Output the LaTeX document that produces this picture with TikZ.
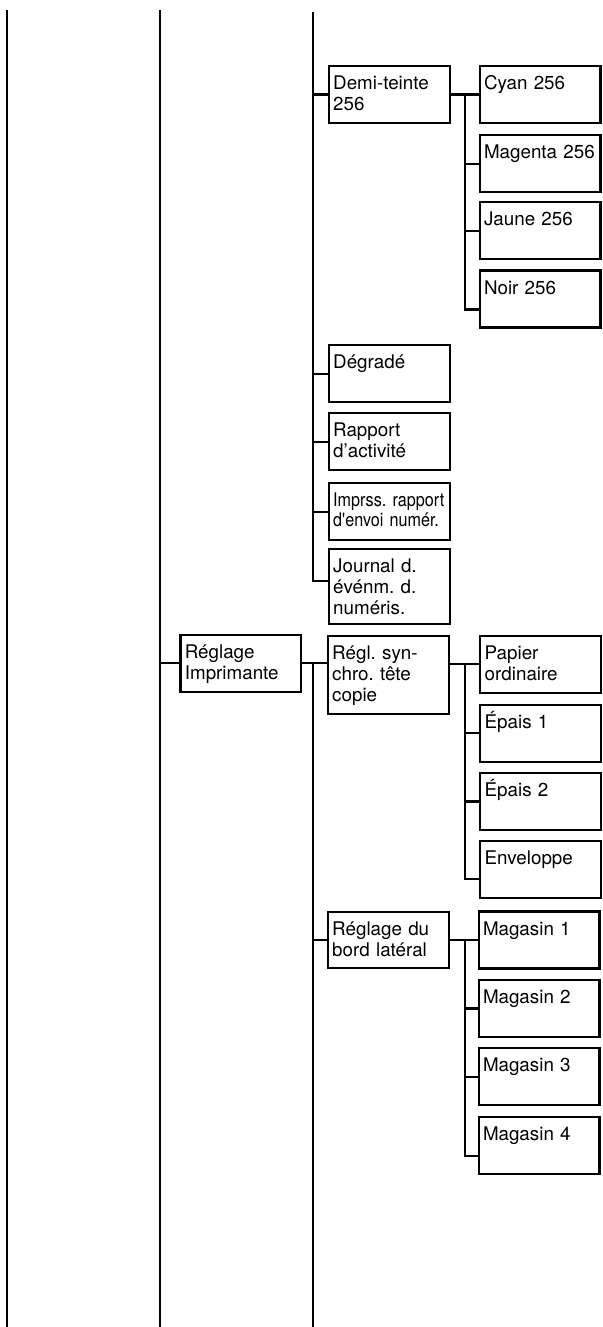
\documentclass[tikz,border=0pt]{standalone}
\usepackage{fontspec}
\setmainfont{TeX Gyre Heros}
\newfontfamily\narrowfont[FakeStretch=0.86]{TeX Gyre Heros}
\usetikzlibrary{positioning}
\frenchspacing
\hyphenpenalty=10000
\newcommand\menufont{\fontsize{9.4pt}{10.5pt}\selectfont}
\newcommand\narrowmenufont{\narrowfont\fontsize{9.4pt}{10pt}\selectfont}

\begin{document}
\begin{tikzpicture}[
  x=0.5pt, y=-0.5pt,
  menubox/.style = {draw, line width=1.1pt, anchor=north west, align=left,
                    text width=56pt, inner xsep=2.2pt, inner ysep=0pt,
                    text height=11.8pt, text depth=#1, font=\menufont},
  menubox/.default = 16.7pt,
  tree/.style = {line width=1.1pt}
]
\useasboundingbox (0,0) rectangle (602,1327);
% Column lines
\coordinate (l1top) at (7.3,10);
\coordinate (l1bot) at (7.3,1327);
\coordinate (l2top) at (160,10);
\coordinate (l2bot) at (160,1327);
\coordinate (l3top) at (312.7,12);
\coordinate (l3bot) at (312.7,1327);
\coordinate (bx) at (465,0);
% Demi-teinte group
\node[menubox] (dem) at (327.7,65) {Demi-teinte\\256};
\node[menubox, right=13.9pt of dem] (cyan) {Cyan 256};
\node[menubox, below=4.9pt of cyan] (mag) {Magenta 256};
\node[menubox, below=4pt of mag] (jau) {Jaune 256};
\node[menubox, below=4.5pt of jau] (noir) {Noir 256};
% Other items
\node[menubox] (deg) at (327.7,344) {Dégradé};
\node[menubox, below=4.5pt of deg] (rap) {Rapport\\d'activité};
\node[menubox, below=5.3pt of rap, font=\narrowmenufont] (imp) {Imprss. rapport\\d'envoi numér.};
\node[menubox=25.5pt, below=3.4pt of imp] (jou) {Journal d.\\événm. d.\\numéris.};
% Reglage Imprimante
\node[menubox] (regi) at (179.3,633.7) {Réglage\\Imprimante};
\node[menubox=27pt] (sync) at (326.7,635) {Régl. syn-\\chro. tête\\copie};
\node[menubox] (pap) at (479.2,634.7) {Papier\\ordinaire};
\node[menubox, below=4.9pt of pap] (ep1) {Épais 1};
\node[menubox, below=4.5pt of ep1] (ep2) {Épais 2};
\node[menubox, below=4.2pt of ep2] (env) {Enveloppe};
\node[menubox=16.3pt] (bord) at (326.7,910.7) {Réglage du\\bord latéral};
\node[menubox, right=13.9pt of bord] (mg1) {Magasin 1};
\node[menubox, below=4.7pt of mg1] (mg2) {Magasin 2};
\node[menubox, below=4.5pt of mg2] (mg3) {Magasin 3};
\node[menubox, below=4.9pt of mg3] (mg4) {Magasin 4};
% Vertical lines
\draw[tree] (l1top) -- (l1bot);
\draw[tree] (l2top) -- (l2bot);
\draw[tree] (l3top) |- ([yshift=2.65pt]jou.west);
\draw[tree] (l3bot |- regi.east) -- (l3bot);
% Stubs from column 3
\draw[tree] (l3top |- dem.west) -- (dem.west);
\draw[tree] (l3top |- deg.west) -- (deg.west);
\draw[tree] (l3top |- rap.west) -- (rap.west);
\draw[tree] (l3top |- imp.west) -- (imp.west);
\draw[tree] (l2top |- regi.west) -- (regi.west);
\draw[tree] (regi.east) -- (sync.west |- regi.east);
\draw[tree] (l3bot |- bord.west) -- (bord.west);
% Demi-teinte -> colours
\draw[tree] (dem.east) -- (cyan.west);
\draw[tree] (bx |- cyan.west) |- ([yshift=-5.25pt]noir.west);
\draw[tree] (bx |- mag.west) -- (mag.west);
\draw[tree] (bx |- jau.west) -- (jau.west);
% Synchro -> papers
\draw[tree] (sync.east |- pap.west) -- (pap.west);
\draw[tree] (bx |- pap.west) |- ([yshift=-5pt]env.west);
\draw[tree] (bx |- ep1.west) -- (ep1.west);
\draw[tree] (bx |- ep2.west) -- (ep2.west);
% Bord lateral -> trays
\draw[tree] (bord.east) -- (mg1.west);
\draw[tree] (bx |- mg1.west) |- ([yshift=-5pt]mg4.west);
\draw[tree] (bx |- mg2.west) -- (mg2.west);
\draw[tree] (bx |- mg3.west) -- (mg3.west);
\end{tikzpicture}
\end{document}
